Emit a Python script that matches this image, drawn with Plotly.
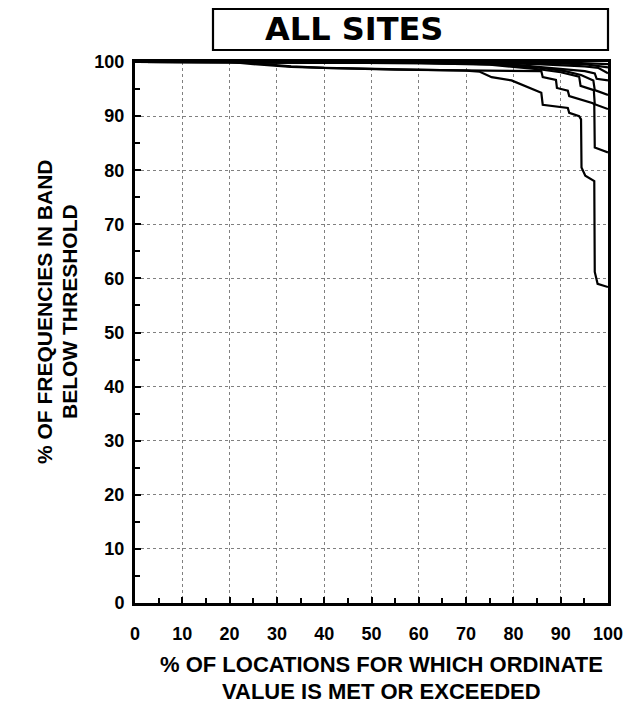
import plotly.graph_objects as go

# ---- data ----
x_ticks = [0, 10, 20, 30, 40, 50, 60, 70, 80, 90, 100]
y_ticks = [0, 10, 20, 30, 40, 50, 60, 70, 80, 90, 100]

c1_x = [0, 20, 25, 33, 40, 55, 65, 70, 72.9, 75.4, 79.6, 81.7, 85.9, 86.2, 91.5, 91.8, 93.9, 94.3, 94.4, 95.2, 97.1, 97.2, 97.8, 100]
c1_y = [100, 100, 99.6, 99.1, 98.9, 98.6, 98.5, 98.4, 98.2, 97.2, 96.6, 95.8, 94.3, 92.1, 91.5, 90.6, 90.0, 89.4, 80.5, 79.0, 78.0, 61.2, 59.0, 58.4]

c2_x = [0, 22, 33, 40, 55, 70, 80, 85.9, 86.2, 89.0, 89.2, 91.5, 91.8, 96.8, 97.1, 97.2, 100]
c2_y = [100, 100, 99.2, 98.9, 98.6, 98.5, 98.4, 98.3, 97.2, 96.7, 95.2, 94.7, 93.7, 92.4, 92.1, 84.2, 83.3]

c3_x = [0, 60, 75, 85, 90, 93.9, 94.2, 97.0, 97.2, 100]
c3_y = [100, 99.8, 99.5, 98.7, 98.1, 97.3, 95.6, 94.8, 92.2, 91.3]

c4_x = [0, 60, 75, 85, 90.9, 94.3, 96.9, 97.2, 100]
c4_y = [100, 99.8, 99.6, 99.0, 98.3, 97.6, 96.6, 94.8, 93.9]

c5_x = [0, 60, 80, 90.9, 95.1, 97.2, 97.6, 100]
c5_y = [100, 99.9, 99.5, 98.7, 98.3, 97.9, 96.9, 96.6]

c6_x = [0, 70, 85, 90.9, 95.1, 98.0, 100]
c6_y = [100, 99.9, 99.6, 99.3, 99.2, 98.9, 97.9]

c7_x = [0, 80, 95, 100]
c7_y = [100, 99.9, 99.6, 99.0]

c8_x = [0, 90, 100]
c8_y = [100, 99.95, 99.6]

curves = [(c1_x, c1_y), (c2_x, c2_y), (c3_x, c3_y), (c4_x, c4_y),
          (c5_x, c5_y), (c6_x, c6_y), (c7_x, c7_y), (c8_x, c8_y)]

title_text = "ALL SITES"
y_title = ["% OF FREQUENCIES IN BAND", "BELOW THRESHOLD"]
x_title = ["% OF LOCATIONS FOR WHICH ORDINATE", "VALUE IS MET OR EXCEEDED"]

FAM = "Liberation Sans, Arial, sans-serif"
TICK_FONT = dict(family=FAM, size=18, color="black", weight="bold")
XT_FONT = dict(family=FAM, size=22, color="black", weight="bold")
YT_FONT = dict(family=FAM, size=21, color="black", weight="bold")

# plot area in pixels
L, R, T, B = 135, 608, 62, 603
PW, PH = R - L, B - T

def px_x(p):
    return (p - L) / PW

def px_y(p):
    return (B - p) / PH

fig = go.Figure()
for cx, cy in curves:
    fig.add_trace(go.Scatter(x=cx, y=cy, mode="lines",
                             line=dict(color="black", width=2.2),
                             showlegend=False, hoverinfo="skip"))

axis_common = dict(
    range=[0, 100], ticks="inside", ticklen=6, tickwidth=1.5,
    tickcolor="black", showline=True, linecolor="black", linewidth=3, mirror=True,
    showgrid=True, gridcolor="#808080", griddash="dot", gridwidth=1,
    zeroline=False, tickfont=TICK_FONT,
    minor=dict(dtick=5, ticks="inside", ticklen=5, tickcolor="black", showgrid=False),
)
fig.update_xaxes(**axis_common, tickvals=x_ticks, ticklabelstandoff=12)
fig.update_yaxes(**axis_common, tickvals=y_ticks, ticklabelstandoff=4)

fig.update_layout(
    width=640, height=717,
    margin=dict(l=L, r=640 - R, t=T, b=717 - B),
    paper_bgcolor="white", plot_bgcolor="white",
    showlegend=False,
)

# title box
fig.add_shape(type="rect", xref="paper", yref="paper",
              x0=px_x(213), x1=1.0, y0=px_y(50), y1=px_y(9),
              line=dict(color="black", width=2.2), fillcolor="white")
fig.add_annotation(text=title_text, xref="paper", yref="paper",
                   x=px_x(354), y=px_y(29),
                   xanchor="center", yanchor="middle", showarrow=False,
                   font=dict(family="DejaVu Sans, sans-serif", size=32, color="black", weight="bold"))

# y axis title (two lines)
for txt, p in zip(y_title, [44, 69]):
    fig.add_annotation(text=txt, xref="paper", yref="paper",
                       x=px_x(p), y=px_y(312),
                       xanchor="center", yanchor="middle", textangle=-90,
                       showarrow=False, font=YT_FONT)

# x axis title (two lines)
for txt, p in zip(x_title, [664, 691]):
    fig.add_annotation(text=txt, xref="paper", yref="paper",
                       x=px_x(381), y=px_y(p),
                       xanchor="center", yanchor="middle",
                       showarrow=False, font=XT_FONT)

fig.write_html("out.html")
